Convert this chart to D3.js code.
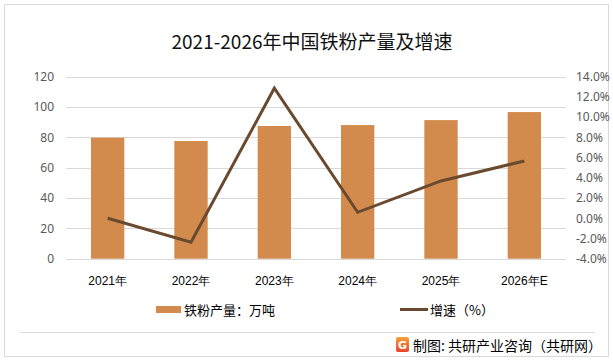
<!DOCTYPE html>
<html><head><meta charset="utf-8">
<script src="https://cdn.jsdelivr.net/npm/d3@7/dist/d3.min.js"></script>
<style>body{margin:0;background:#fff;}svg{display:block;font-family:"Microsoft YaHei","Noto Sans CJK SC",sans-serif;}</style>
</head><body><svg id="c" width="613" height="360"></svg>
<script>
const categories = ["2021年","2022年","2023年","2024年","2025年","2026年E"];
const output = [79.8, 77.6, 87.5, 88.1, 91.4, 96.7];
const growth = [0.0, -2.37, 12.86, 0.59, 3.69, 5.67];
const leftTicks = [0,20,40,60,80,100,120];
const rightTicks = [-4,-2,0,2,4,6,8,10,12,14];
const title = "2021-2026年中国铁粉产量及增速";
const legendBar = "铁粉产量：万吨";
const legendLine = "增速（%）";
const source = "制图: 共研产业咨询（共研网）";

const svg = d3.select("#c");
const barColor = "#d38b4d", lineColor = "#6a4a2f";

svg.append("rect").attr("x",4.5).attr("y",4.5).attr("width",604).attr("height",352)
  .attr("fill","#fff").attr("stroke","#d9d9d9");

const x = d3.scaleBand().domain(categories).range([66,566]).paddingInner(0.6).paddingOuter(0.3);
const yL = d3.scaleLinear().domain([0,120]).range([258.7,76.7]);
const yR = d3.scaleLinear().domain([-4,14]).range([258.7,76.7]);

// gridlines
svg.append("g").selectAll("line").data(leftTicks).join("line")
  .attr("x1",66).attr("x2",566).attr("y1",d=>Math.round(yL(d))+0.5).attr("y2",d=>Math.round(yL(d))+0.5)
  .attr("stroke","#d9d9d9").attr("stroke-width",1);

// left axis
const axL = d3.axisLeft(yL).tickValues(leftTicks).tickSize(0).tickPadding(0);
const gL = svg.append("g").attr("transform","translate(54,0)").call(axL);
gL.select(".domain").remove();
gL.selectAll("text").attr("font-size",12).attr("fill","#595959").attr("font-family","'Noto Sans','DejaVu Sans',sans-serif");

// right axis
const axR = d3.axisRight(yR).tickValues(rightTicks).tickSize(0).tickPadding(0).tickFormat(d=>d.toFixed(1)+"%");
const gR = svg.append("g").attr("transform","translate(576,0)").call(axR);
gR.select(".domain").remove();
gR.selectAll("text").attr("font-size",12).attr("fill","#595959").attr("font-family","'Noto Sans','DejaVu Sans',sans-serif");

// bars
svg.append("g").selectAll("rect").data(output).join("rect")
  .attr("x",(d,i)=>x(categories[i])).attr("width",x.bandwidth())
  .attr("y",d=>yL(d)).attr("height",d=>yL(0)-yL(d)).attr("fill",barColor);

// line
const line = d3.line().x((d,i)=>x(categories[i])+x.bandwidth()/2).y(d=>yR(d));
svg.append("path").datum(growth).attr("d",line).attr("fill","none")
  .attr("stroke",lineColor).attr("stroke-width",3).attr("stroke-linejoin","miter");

// x axis labels
const axX = d3.axisBottom(x).tickSize(0).tickPadding(0);
const gX = svg.append("g").attr("transform","translate(0,276)").call(axX);
gX.select(".domain").remove();
gX.selectAll("text").attr("font-size",12).attr("fill","#000");

// title
svg.append("text").attr("x",312).attr("y",49).attr("text-anchor","middle")
  .attr("font-size",19).attr("fill","#111").text(title);

// legend
svg.append("rect").attr("x",156).attr("y",306).attr("width",25).attr("height",7).attr("fill",barColor);
svg.append("text").attr("x",184).attr("y",315).attr("font-size",13).attr("fill","#000").text(legendBar);
svg.append("line").attr("x1",400).attr("x2",428).attr("y1",309.5).attr("y2",309.5).attr("stroke",lineColor).attr("stroke-width",3);
svg.append("text").attr("x",430).attr("y",315).attr("font-size",13).attr("fill","#000").text(legendLine);

// separator
svg.append("line").attr("x1",20).attr("x2",595).attr("y1",332.5).attr("y2",332.5).attr("stroke","#d9d9d9");

// logo
const defs = svg.append("defs");
const lg = defs.append("linearGradient").attr("id","lg").attr("x1",0).attr("y1",0).attr("x2",0).attr("y2",1);
lg.append("stop").attr("offset","0").attr("stop-color","#f7a13a");
lg.append("stop").attr("offset","1").attr("stop-color","#e8442a");
svg.append("rect").attr("x",396).attr("y",337).attr("width",13).attr("height",15).attr("rx",2).attr("fill","url(#lg)");
svg.append("text").attr("x",402.5).attr("y",349).attr("text-anchor","middle").attr("font-size",11).attr("font-weight","bold").attr("fill","#fff").attr("font-family","'DejaVu Sans',sans-serif").text("G");
svg.append("text").attr("x",413).attr("y",350.5).attr("font-size",14).attr("fill","#000").text(source);
</script></body></html>
